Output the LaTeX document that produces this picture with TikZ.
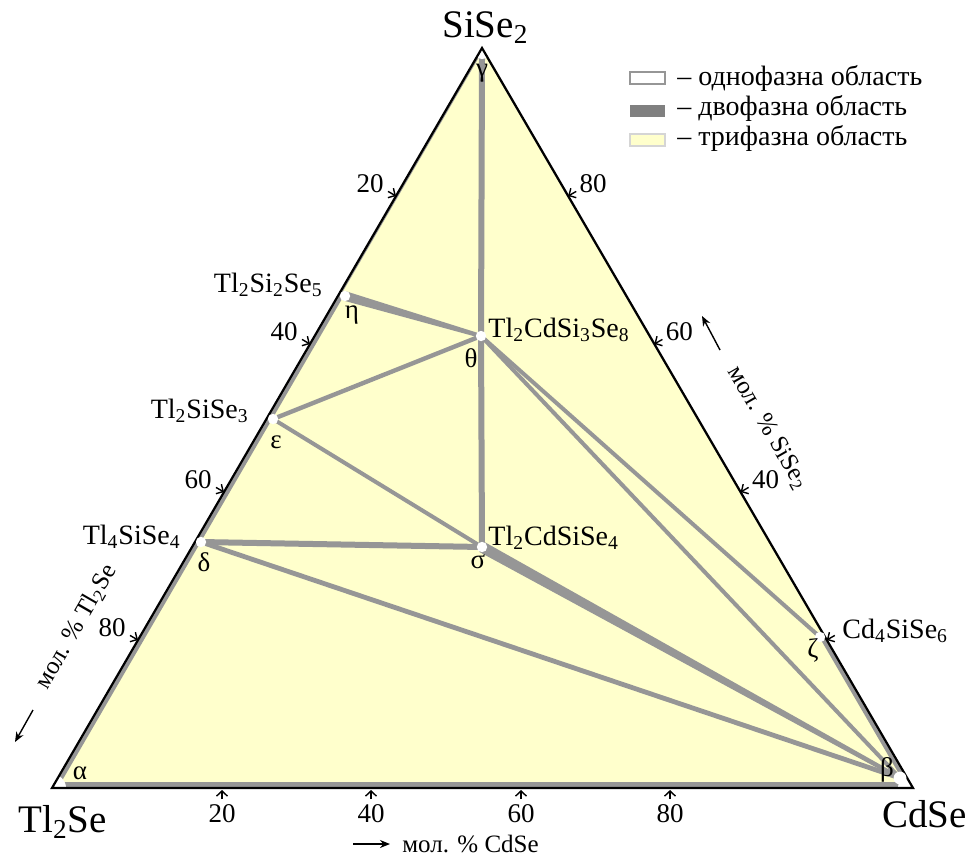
\documentclass[tikz,border=0pt]{standalone}
\usepackage{fontspec}
\setmainfont{Liberation Serif}
\usepackage{tikz}
\usetikzlibrary{arrows.meta,calc}
\definecolor{phasegray}{RGB}{150,150,150}
\definecolor{twogray}{RGB}{128,128,128}
\definecolor{triyellow}{RGB}{255,255,204}

\begin{document}
\begin{tikzpicture}[x=0.5pt, y=-0.5pt,
  tie/.style={draw=phasegray, line width=2.2pt},
  tiethick/.style={draw=phasegray, line width=3pt},
  band/.style={draw=phasegray, line cap=butt},
  scalemark/.style={-{Straight Barb[length=2.6pt,width=5.5pt]}, line width=0.7pt},
  axarrow/.style={-{Stealth[length=5pt,width=4pt]}, line width=0.7pt},
  vtx/.style={font=\fontsize{19.5}{21}\selectfont, inner sep=0pt},
  cmp/.style={font=\fontsize{14}{15}\selectfont, inner sep=0pt},
  grk/.style={font=\fontsize{13.5}{14}\selectfont, inner sep=0pt},
  num/.style={font=\fontsize{13.5}{14}\selectfont, inner sep=0pt},
  axt/.style={font=\fontsize{12.5}{13}\selectfont, inner sep=0pt},
  leg/.style={font=\fontsize{14}{15}\selectfont, inner sep=0pt, anchor=base west},
  legbox/.style={minimum width=17.5pt, minimum height=6pt, inner sep=0pt, line width=0.6pt}
]
\useasboundingbox (0,0) rectangle (973,857);

%% ---------- VERTICES AND PHASE POINTS ----------
\coordinate (L) at (52,788);
\coordinate (R) at (913,788);
\coordinate (A) at (482,48);
\coordinate (beta)  at (900,778);
\coordinate (gamma) at (482,58);
\coordinate (eta)   at (345,296);
\coordinate (theta) at (481,336);
\coordinate (eps)   at (273,419);
\coordinate (sigma) at (482,547);
\coordinate (delta) at (201,542);
\coordinate (zeta)  at (820,637);
\coordinate (etaE)  at ($(L)!0.665!(A)$);
\coordinate (zetaE) at ($(A)!0.796!(R)$);

%% ---------- THREE-PHASE FIELD ----------
\fill[triyellow] (L) -- (R) -- (A) -- cycle;

\begin{scope}
  \clip (L) -- (R) -- (A) -- cycle;
  %% two-phase bands along the edges
  \draw[band, line width=6pt] (L) -- (R);
  \draw[band, line width=5pt] (L) -- (etaE);
  \draw[band, line width=2pt] (etaE) -- (A);
  \draw[band, line width=5pt] (zetaE) -- (R);
  \draw[band, line width=1.2pt] (A) -- (zetaE);

  %% tie lines
  \draw[tiethick] (gamma) -- (theta);
  \draw[tiethick] (theta) -- (sigma);
  \draw[tie] (eps) -- (theta);
  \draw[tie, line width=2pt] (eps) -- (sigma);
  \draw[tiethick] (delta) -- (sigma);
  \draw[tie, line width=2.4pt] (delta) -- (beta);
  \draw[tie, line width=2pt] (theta) -- (beta);
  \draw[tie, line width=2pt] (theta) -- (zeta);

  %% tapered tie lines
  \fill[phasegray] ($(eta)!2.4pt!90:(theta)$) -- ($(eta)!2.4pt!-90:(theta)$)
    -- ($(theta)!1pt!90:(eta)$) -- ($(theta)!1pt!-90:(eta)$) -- cycle;
  \fill[phasegray] ($(sigma)!2.8pt!90:(beta)$) -- ($(sigma)!2.8pt!-90:(beta)$)
    -- ($(beta)!1pt!90:(sigma)$) -- ($(beta)!1pt!-90:(sigma)$) -- cycle;

  %% one-phase corners
  \fill[white] (L) circle[radius=7pt];
  \fill[white] (R) circle[radius=7.5pt];
  \fill[white] (A) circle[radius=5.5pt];
\end{scope}

\draw[line width=1.1pt] (L) -- (R) -- (A) -- cycle;

%% ---------- PHASE POINTS ----------
\foreach \p in {eta,theta,eps,sigma,delta,zeta}
  \fill[white] (\p) circle[radius=2.6pt];
\fill[white] (beta) circle[radius=3.2pt];

%% ---------- SCALE MARKS ----------
\foreach \t/\v in {0.2/80,0.4/60,0.6/40,0.8/20} {
  \draw[scalemark] ($(L)!\t!(A)+(-8,-4.6)$) -- ($(L)!\t!(A)$);
  \node[num] (lt\v) at ($(L)!\t!(A)+(-26,-12)$) {\v};
}
\foreach \t/\v in {0.2/80,0.4/60,0.6/40} {
  \draw[scalemark] ($(A)!\t!(R)+(8,-4.6)$) -- ($(A)!\t!(R)$);
  \node[num] (rt\v) at ($(A)!\t!(R)+(25,-12)$) {\v};
}
\draw[scalemark] ($(A)!0.8!(R)+(8,-4.6)$) -- ($(A)!0.8!(R)$);
\foreach \x/\v in {222/20,371/40,521/60,670/80} {
  \draw[scalemark] (\x,799) -- (\x,790);
  \node[num, anchor=base] (bt\v) at (\x,822) {\v};
}

%% ---------- COMPONENT LABELS ----------
\node[vtx, anchor=base west] (nSiSe) at (442,37) {SiSe\textsubscript{2}};
\node[vtx, anchor=base west] (nTlSe) at (18,832) {Tl\textsubscript{2}Se};
\node[vtx, anchor=base west] (nCdSe) at (882,827) {CdSe};

%% ---------- COMPOUND LABELS ----------
\node[cmp, anchor=base east] (cEta)   at (323,292) {Tl\textsubscript{2}Si\textsubscript{2}Se\textsubscript{5}};
\node[cmp, anchor=base east] (cEps)   at (249,418) {Tl\textsubscript{2}SiSe\textsubscript{3}};
\node[cmp, anchor=base east] (cDelta) at (181,544) {Tl\textsubscript{4}SiSe\textsubscript{4}};
\node[cmp, anchor=base west] (cTheta) at (488,337) {Tl\textsubscript{2}CdSi\textsubscript{3}Se\textsubscript{8}};
\node[cmp, anchor=base west] (cSigma) at (488,545) {Tl\textsubscript{2}CdSiSe\textsubscript{4}};
\node[cmp, anchor=base west] (cZeta)  at (842,638) {Cd\textsubscript{4}SiSe\textsubscript{6}};

%% ---------- PHASE LETTERS ----------
\node[grk] (gAlpha) at (80,773)  {α};
\node[grk] (gBeta)  at (887,770) {β};
\node[grk] (gGamma) at (482,73)  {γ};
\node[grk] (gEta)   at (352,315) {η};
\node[grk] (gTheta) at (471,358) {θ};
\node[grk] (gEps)   at (276,442) {ε};
\node[grk] (gDelta) at (204,562) {δ};
\node[grk] (gSigma) at (478,562) {σ};
\node[grk] (gZeta)  at (813,650) {ζ};

%% ---------- AXIS TITLES ----------
\node[axt, anchor=base west] (tCdSe) at (402,852) {мол. \% CdSe};
\coordinate (aB0) at (353,844);
\coordinate (aB1) at (390,844);
\draw[axarrow] (aB0) -- (aB1);
\node[axt, rotate=60] (tTlSe) at (76,627) {мол. \% Tl\textsubscript{2}Se};
\coordinate (aL0) at (33,710);
\coordinate (aL1) at (15,742);
\draw[axarrow] (aL0) -- (aL1);
\node[axt, rotate=-60] (tSiSe) at (768,428) {мол. \% SiSe\textsubscript{2}};
\coordinate (aR0) at (720,350);
\coordinate (aR1) at (702,316);
\draw[axarrow] (aR0) -- (aR1);

%% ---------- LEGEND ----------
\node[legbox, draw=phasegray, fill=white]              (lg1) at (647.5,78)  {};
\node[legbox, fill=twogray]                            (lg2) at (647.5,111) {};
\node[legbox, draw=phasegray!40, fill=triyellow]       (lg3) at (647.5,140) {};
\node[leg] (lgt1) at (677,85)  {– однофазна область};
\node[leg] (lgt2) at (677,115) {– двофазна область};
\node[leg] (lgt3) at (677,145) {– трифазна область};

\end{tikzpicture}
\end{document}
